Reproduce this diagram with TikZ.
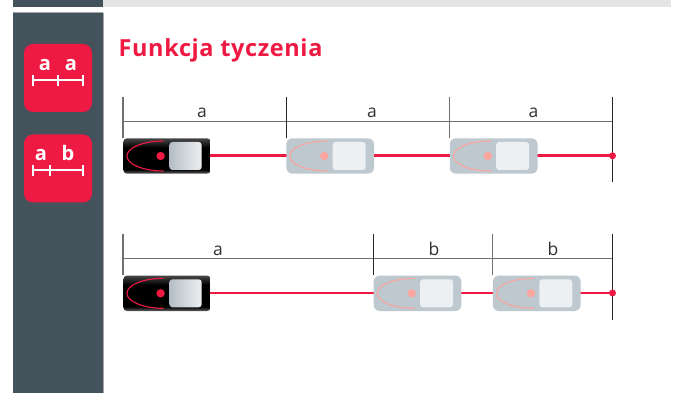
\documentclass[tikz,border=0pt]{standalone}
\usepackage{fontspec}
\setmainfont{Open Sans}
\newfontfamily\titlefont[LetterSpace=2.6]{Open Sans}
\definecolor{slatec}{HTML}{44525C}
\definecolor{redc}{HTML}{EF1A43}
\definecolor{ghostc}{HTML}{BEC8CF}
\definecolor{ghostw}{HTML}{ECF0F3}
\definecolor{ghostr}{HTML}{FAA69F}
\definecolor{greyl}{HTML}{707070}
\definecolor{scrl}{HTML}{B4BDC5}
\definecolor{scrr}{HTML}{EDF0F2}
\pgfdeclareverticalshading{devshade}{100bp}{color(0bp)=(black!62); color(25bp)=(black!62); color(31bp)=(black); color(62bp)=(black); color(75bp)=(black!72); color(100bp)=(black!72)}
\tikzset{
  x=1pt,y=-1pt,
  dim/.style={draw=greyl,line width=1.2pt},
  tick/.style={draw=black!85,line width=0.9pt},
  beam/.style={draw=redc,line width=2.2pt},
  lab/.style={font=\fontsize{17.5}{17.5}\selectfont,text=black!80,inner sep=0pt,anchor=base},
  icolab/.style={font=\fontsize{20}{20}\selectfont\bfseries,text=white,inner sep=0pt,anchor=base},
  icoline/.style={draw=white,line width=1.7pt},
  icobox/.style={fill=redc,rounded corners=9pt,draw=none},
}
\newcommand{\devblack}[2]{%
  \shade[shading=devshade,rounded corners=3.5pt] (#1,#2-17.7) rectangle (#1+87.2,#2+17.7);
  \draw[redc,line width=1.1pt] (#1+40,#2-15) .. controls (#1+20,#2-15) and (#1+3.5,#2-8.3) .. (#1+3.5,#2) .. controls (#1+3.5,#2+8.3) and (#1+20,#2+15) .. (#1+40,#2+15);
  \fill[redc] (#1+37.2,#2) circle (4.2pt);
  \shade[left color=scrl,right color=scrr,rounded corners=3pt] (#1+46,#2-14) rectangle (#1+78.3,#2+14);
}
\newcommand{\devghost}[2]{%
  \fill[ghostc,rounded corners=6pt] (#1,#2-17.7) rectangle (#1+87.7,#2+17.7);
  \draw[ghostr,line width=1.1pt] (#1+41,#2-15) .. controls (#1+20,#2-15) and (#1+3.5,#2-8.3) .. (#1+3.5,#2) .. controls (#1+3.5,#2+8.3) and (#1+20,#2+15) .. (#1+41,#2+15);
  \fill[ghostr] (#1+38,#2) circle (4.2pt);
  \fill[ghostw,rounded corners=3pt] (#1+46.4,#2-14) rectangle (#1+79.4,#2+14);
}
\begin{document}
\begin{tikzpicture}
\useasboundingbox (0,0) rectangle (675,398);
\fill[white] (0,0) rectangle (675,398);
% top bars and sidebar
\fill[slatec] (13,0) rectangle (103,7);
\fill[black!10] (103,0) rectangle (671,7);
\fill[slatec] (13,12.5) rectangle (103,393);
\fill[black!35] (13,11.7) rectangle (103,12.6);
\fill[black!35] (103,13) rectangle (103.5,393);
% icon 1
\fill[icobox] (24,44) rectangle (92,112);
\node[icolab] (ia1) at (45,70.7) {a};
\node[icolab] (ia2) at (71,70.7) {a};
\draw[icoline] (32.7,80) -- (82.7,80);
\draw[icoline] (32.7,75) -- (32.7,85.7) (58,75) -- (58,85.7) (82.7,75) -- (82.7,85.7);
% icon 2
\fill[icobox] (24,134.5) rectangle (92,202.5);
\node[icolab] (ib1) at (41,161) {a};
\node[icolab] (ib2) at (68,161) {b};
\draw[icoline] (32.7,170) -- (82.7,170);
\draw[icoline] (32.7,165) -- (32.7,175.7) (50,165) -- (50,175.7) (82.7,165) -- (82.7,175.7);
% title
\node[font=\titlefont\fontsize{23.5}{23.5}\selectfont\bfseries,text=redc,inner sep=0pt,anchor=base west] (title) at (118.5,57) {Funkcja tyczenia};
% row 1
\draw[beam] (210,155.5) -- (612,155.5);
\devblack{123.4}{156}
\devghost{286.3}{156}
\devghost{449.8}{156}
\draw[dim] (123,121.8) -- (612,121.8);
\draw[dim] (123,96.7) -- (123,137.7);
\draw[tick] (286.3,96.7) -- (286.3,137.7);
\draw[dim] (449.5,96.7) -- (449.5,137.7);
\draw[tick] (612.5,96.7) -- (612.5,182.5);
\fill[redc] (612.5,155.8) circle (3.5pt);
\node[lab] (r1a) at (202,117.3) {a};
\node[lab] (r1b) at (372,117.3) {a};
\node[lab] (r1c) at (533.5,117.3) {a};
% row 2
\draw[beam] (210,293) -- (612,293);
\devblack{123.4}{293.3}
\devghost{373.7}{293.3}
\devghost{492.9}{293.3}
\draw[dim] (123,258.8) -- (612,258.8);
\draw[dim] (123,234) -- (123,275);
\draw[tick] (373.5,234) -- (373.5,275);
\draw[dim] (492.8,234) -- (492.8,275);
\draw[tick] (612.5,234) -- (612.5,320);
\fill[redc] (612.5,293) circle (3.5pt);
\node[lab] (r2a) at (218,255.3) {a};
\node[lab] (r2b) at (434,255.3) {b};
\node[lab] (r2c) at (553,255.3) {b};
\end{tikzpicture}
\end{document}
